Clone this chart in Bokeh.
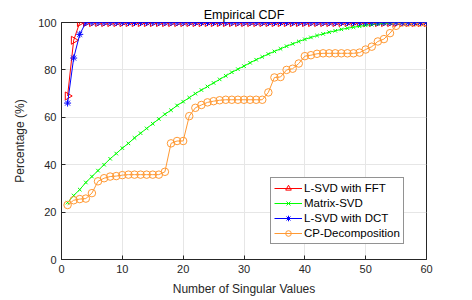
import numpy as np
from bokeh.plotting import figure
from bokeh.models import Range1d, Legend, LegendItem
from bokeh.embed import file_html
from bokeh.resources import INLINE

x = list(range(1, 61))
fft = [69, 92.5] + [100] * 58
dct = [66, 85, 95] + [100] * 57
msvd = [24, 27, 29.5, 32.5, 35, 37.5, 40, 42.5, 44.7, 47,
        49, 51.3, 53.3, 55.3, 57.3, 59.3, 61.3, 63, 65, 66.6,
        68.3, 70, 71.5, 73, 74.5, 76, 77.5, 79, 80.3, 81.6,
        83, 84.3, 85.5, 86.7, 87.8, 88.9, 90, 91, 92, 92.9,
        93.7, 94.5, 95.2, 95.9, 96.5, 97.1, 97.6, 98, 98.4, 98.8,
        99.1, 99.4, 99.6, 99.8, 100, 100, 100, 100, 100, 100]
cp = [23, 25, 25.5, 25.7, 28, 33, 34.3, 35, 35.2, 35.6,
      35.8, 35.8, 35.8, 35.8, 35.8, 35.8, 37, 49, 50, 50,
      60.5, 64, 65.2, 66.3, 66.8, 67.2, 67.4, 67.4, 67.4, 67.4,
      67.4, 67.4, 67.4, 70.5, 76.8, 77, 80, 80.5, 82.7, 85.8,
      86.2, 86.8, 87, 87, 87, 87, 87, 87, 87.3, 88.6,
      89.8, 92, 93, 95.5, 98.6, 100, 100, 100, 100, 100]
xticks = [0, 10, 20, 30, 40, 50, 60]
yticks = [0, 20, 40, 60, 80, 100]

FONT = "Liberation Sans"
AX = "#262626"

p = figure(width=464, height=298, output_backend="svg", toolbar_location=None,
           x_range=Range1d(0, 60), y_range=Range1d(0, 100),
           min_border_left=61, min_border_right=38, min_border_top=22, min_border_bottom=35,
           title="Empirical CDF")
p.title.align = "center"
p.title.text_font = FONT
p.title.text_font_size = "12.5px"
p.title.text_font_style = "normal"
p.title.text_color = "black"
p.title.offset = 0
p.title.standoff = 2
p.outline_line_color = AX
p.background_fill_color = "white"
p.border_fill_color = "white"

for ax in [p.xaxis[0], p.yaxis[0]]:
    ax.axis_line_color = AX
    ax.major_tick_line_color = AX
    ax.major_tick_in = 4
    ax.major_tick_out = 0
    ax.minor_tick_line_color = None
    ax.major_label_text_font = FONT
    ax.major_label_text_font_size = "11px"
    ax.major_label_text_color = AX
    ax.axis_label_text_font = FONT
    ax.axis_label_text_font_size = "12px"
    ax.axis_label_text_font_style = "normal"
    ax.axis_label_text_color = AX
p.xaxis.ticker = xticks
p.yaxis.ticker = yticks
p.xaxis.axis_label = "Number of Singular Values"
p.yaxis.axis_label = "Percentage (%)"
p.xaxis.major_label_standoff = 5
p.yaxis.major_label_standoff = 5
p.xaxis.axis_label_standoff = 6
p.yaxis.axis_label_standoff = 8

p.grid.grid_line_color = "#e6e6e6"
p.xgrid.ticker = xticks
p.ygrid.ticker = yticks

RED = "#FF0000"
GREEN = "#00FF00"
BLUE = "#0000FF"
ORANGE = "#FF9933"

l1 = p.line(x, fft, line_color=RED, line_width=1)
m1 = p.scatter(x, fft, marker="triangle", angle=-np.pi / 2, angle_units="rad", size=8,
               line_color=RED, fill_color=None, line_width=1)
l2 = p.line(x, msvd, line_color=GREEN, line_width=1)
m2 = p.scatter(x, msvd, marker="x", size=5, line_color=GREEN, line_width=1)
l4 = p.line(x, cp, line_color=ORANGE, line_width=1)
m4 = p.scatter(x, cp, marker="circle", size=7.5, line_color=ORANGE, fill_color=None, line_width=1)
l3 = p.line(x, dct, line_color=BLUE, line_width=1)
m3 = p.scatter(x, dct, marker="asterisk", size=7, line_color=BLUE, line_width=1)

legend = Legend(items=[
    LegendItem(label="L-SVD with FFT", renderers=[l1, m1]),
    LegendItem(label="Matrix-SVD", renderers=[l2, m2]),
    LegendItem(label="L-SVD with DCT", renderers=[l3, m3]),
    LegendItem(label="CP-Decomposition", renderers=[l4, m4]),
], location=(209, 15))
legend.label_text_font = FONT
legend.label_text_font_size = "11.5px"
legend.label_text_color = "black"
legend.glyph_width = 28
legend.glyph_height = 14
legend.label_height = 14
legend.label_standoff = 2
legend.spacing = 1
legend.padding = 3
legend.margin = 0
legend.border_line_color = AX
legend.border_line_width = 1
legend.background_fill_alpha = 1
p.add_layout(legend, "center")

open("out.html", "w").write(file_html(p, INLINE))
